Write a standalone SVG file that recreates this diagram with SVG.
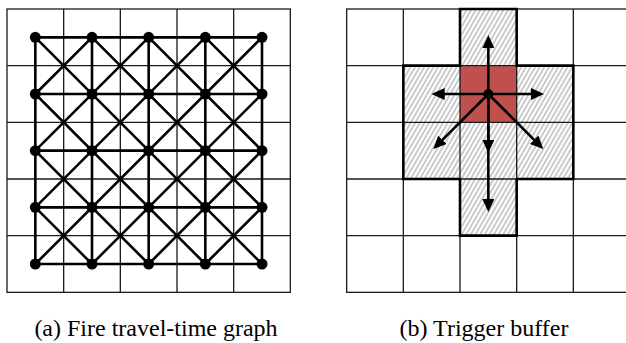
<svg xmlns="http://www.w3.org/2000/svg" width="626" height="343" viewBox="0 0 626 343">
<style>
.grid{fill:none;stroke:#1a1a1a;stroke-width:1.3}
.edge{fill:none;stroke:#000;stroke-width:2.6;stroke-linecap:round}
.node{fill:#000}
.arrow{fill:none;stroke:#000;stroke-width:2.6;marker-end:url(#ah)}
.cap{font-family:"Liberation Serif","Times New Roman",serif;font-size:24px;fill:#000;text-anchor:middle}
</style>
<defs>
<pattern id="hatch" patternUnits="userSpaceOnUse" width="4" height="4" patternTransform="rotate(30)">
<rect width="4" height="4" fill="#fff"/>
<line x1="1" y1="0" x2="1" y2="4" stroke="#8a8a8a" stroke-width="0.9"/>
</pattern>
<marker id="ah" markerUnits="userSpaceOnUse" markerWidth="13" markerHeight="12" refX="10" refY="6" orient="auto">
<path d="M0,0 L13,6 L0,12 z" fill="#000"/>
</marker>
</defs>
<rect width="626" height="343" fill="#fff"/>

<!-- (a) grid -->
<g id="grid-a" class="grid">
<rect x="7" y="9" width="283.33" height="283.33"/>
<path d="M63.67 9V292.33M120.33 9V292.33M177 9V292.33M233.67 9V292.33M7 65.67H290.33M7 122.33H290.33M7 179H290.33M7 235.67H290.33"/>
</g>

<!-- (a) connectors -->
<g id="connectors-a" class="edge">
<path d="M35.33 37.33H262M35.33 94H262M35.33 150.67H262M35.33 207.33H262M35.33 264H262"/>
<path d="M35.33 37.33V264M92 37.33V264M148.67 37.33V264M205.33 37.33V264M262 37.33V264"/>
<path d="M35.33 37.33L262 264M35.33 94L205.33 264M35.33 150.67L148.67 264M35.33 207.33L92 264M92 37.33L262 207.33M148.67 37.33L262 150.67M205.33 37.33L262 94"/>
<path d="M92 37.33L35.33 94M148.67 37.33L35.33 150.67M205.33 37.33L35.33 207.33M262 37.33L35.33 264M262 94L92 264M262 150.67L148.67 264M262 207.33L205.33 264"/>
</g>

<!-- (a) nodes -->
<g id="n00"><circle class="node" cx="35.33" cy="37.33" r="5.5"/></g>
<g id="n01"><circle class="node" cx="92" cy="37.33" r="5.5"/></g>
<g id="n02"><circle class="node" cx="148.67" cy="37.33" r="5.5"/></g>
<g id="n03"><circle class="node" cx="205.33" cy="37.33" r="5.5"/></g>
<g id="n04"><circle class="node" cx="262" cy="37.33" r="5.5"/></g>
<g id="n10"><circle class="node" cx="35.33" cy="94" r="5.5"/></g>
<g id="n11"><circle class="node" cx="92" cy="94" r="5.5"/></g>
<g id="n12"><circle class="node" cx="148.67" cy="94" r="5.5"/></g>
<g id="n13"><circle class="node" cx="205.33" cy="94" r="5.5"/></g>
<g id="n14"><circle class="node" cx="262" cy="94" r="5.5"/></g>
<g id="n20"><circle class="node" cx="35.33" cy="150.67" r="5.5"/></g>
<g id="n21"><circle class="node" cx="92" cy="150.67" r="5.5"/></g>
<g id="n22"><circle class="node" cx="148.67" cy="150.67" r="5.5"/></g>
<g id="n23"><circle class="node" cx="205.33" cy="150.67" r="5.5"/></g>
<g id="n24"><circle class="node" cx="262" cy="150.67" r="5.5"/></g>
<g id="n30"><circle class="node" cx="35.33" cy="207.33" r="5.5"/></g>
<g id="n31"><circle class="node" cx="92" cy="207.33" r="5.5"/></g>
<g id="n32"><circle class="node" cx="148.67" cy="207.33" r="5.5"/></g>
<g id="n33"><circle class="node" cx="205.33" cy="207.33" r="5.5"/></g>
<g id="n34"><circle class="node" cx="262" cy="207.33" r="5.5"/></g>
<g id="n40"><circle class="node" cx="35.33" cy="264" r="5.5"/></g>
<g id="n41"><circle class="node" cx="92" cy="264" r="5.5"/></g>
<g id="n42"><circle class="node" cx="148.67" cy="264" r="5.5"/></g>
<g id="n43"><circle class="node" cx="205.33" cy="264" r="5.5"/></g>
<g id="n44"><circle class="node" cx="262" cy="264" r="5.5"/></g>

<!-- (b) buffer -->
<g id="buffer">
<path d="M460 9H516.67V65.67H573.33V179H516.67V235.67H460V179H403.33V65.67H460Z" fill="url(#hatch)"/>
<rect x="460" y="65.67" width="56.67" height="56.67" fill="#c0504d"/>
</g>
<g id="grid-b" class="grid">
<rect x="346.67" y="9" width="283.33" height="283.33"/>
<path d="M403.33 9V292.33M460 9V292.33M516.67 9V292.33M573.33 9V292.33M346.67 65.67H630M346.67 122.33H630M346.67 179H630M346.67 235.67H630"/>
</g>
<path id="buffer-outline" d="M460 9H516.67V65.67H573.33V179H516.67V235.67H460V179H403.33V65.67H460Z" fill="none" stroke="#000" stroke-width="2.6" stroke-linejoin="miter"/>

<!-- (b) connectors -->
<g id="connectors-b">
<path class="arrow" d="M488.33 94V38"/>
<path class="arrow" d="M488.33 94H434.7"/>
<path class="arrow" d="M488.33 94H541"/>
<path class="arrow" d="M488.33 94V150"/>
<path class="arrow" d="M488.33 94V209"/>
<path class="arrow" d="M488.33 94L435.45 146.88"/>
<path class="arrow" d="M488.33 94L541.2 146.88"/>
</g>
<g id="source"><circle class="node" cx="488.33" cy="94" r="5"/></g>

<!-- captions -->
<text class="cap" x="156" y="336">(a) Fire travel-time graph</text>
<text class="cap" x="484" y="336">(b) Trigger buffer</text>
</svg>
